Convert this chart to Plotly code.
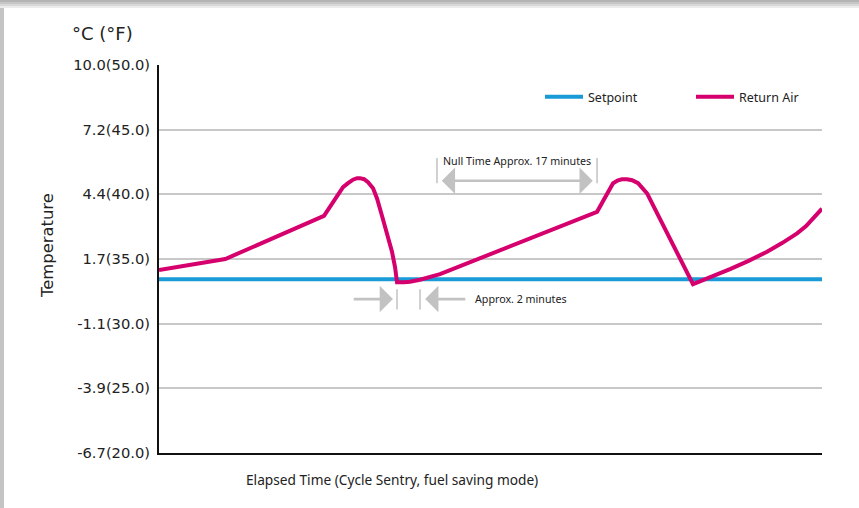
import plotly.graph_objects as go

# ---- data (minutes, degrees F) ----
time_min = [0, 7.0, 17.42, 17.84, 18.37, 18.90, 19.43, 19.96, 20.48, 20.91, 21.22, 21.65, 22.07,
            22.60, 23.02, 23.55, 24.07, 24.60, 24.92, 25.13, 25.87, 26.5, 27.56, 28.61, 29.67,
            46.25, 46.67, 47.09, 47.52, 47.94, 48.46, 48.89, 49.42, 49.95, 50.58, 51.11, 51.53,
            56.38, 58.39, 60.29, 62.19, 64.2, 65.78, 67.37, 68.32, 69.06, 70.0]
return_air_f = [34.14, 35.0, 38.33, 38.81, 39.37, 40.0, 40.55, 40.86, 41.13, 41.25, 41.25, 41.17, 40.94,
                40.47, 39.68, 38.33, 36.98, 35.56, 34.38, 33.2, 33.2, 33.24, 33.40, 33.59, 33.83,
                38.65, 39.21, 39.76, 40.39, 40.86, 41.09, 41.17, 41.17, 41.09, 40.86, 40.47, 40.08,
                33.05, 33.63, 34.22, 34.84, 35.56, 36.23, 36.98, 37.54, 38.17, 38.89]
setpoint_time = [0, 70]
setpoint_f = [33.44, 33.44]

tick_vals = [20, 25, 30, 35, 40, 45, 50]
tick_text = ["-6.7(20.0)", "-3.9(25.0)", "-1.1(30.0)", "1.7(35.0)", "4.4(40.0)", "7.2(45.0)", "10.0(50.0)"]

FONT = "Noto Sans"
FONT2 = "DejaVu Sans"
GRAY = "#c2c2c2"
TXT = "#222222"

fig = go.Figure()
fig.add_trace(go.Scatter(x=setpoint_time, y=setpoint_f, mode="lines", name="Setpoint",
                         line=dict(color="#1a9ad6", width=4)))
fig.add_trace(go.Scatter(x=time_min, y=return_air_f, mode="lines", name="Return Air",
                         line=dict(color="#d5006d", width=4)))

W, H = 859, 508
L, R, T, B = 159, 37, 65, 55
pw, ph = W - L - R, H - T - B


def px(xp):
    return (xp - L) / pw


def py(yp):
    return (H - B - yp) / ph


shapes = []
# frame decoration (gray edges)
shapes.append(dict(type="rect", xref="paper", yref="paper", x0=px(0), x1=px(4), y0=py(508), y1=py(0),
                   fillcolor="#c4c4c4", line=dict(width=0), layer="below"))
for (a, b, c) in [(0, 2, "#b4b4b4"), (2, 4, "#c6c6c6"), (4, 6, "#d8d8d8"), (6, 8, "#ececec")]:
    shapes.append(dict(type="rect", xref="paper", yref="paper", x0=px(0), x1=px(859), y0=py(b), y1=py(a),
                       fillcolor=c, line=dict(width=0), layer="below"))

# vertical marker lines for annotations
for xv, y0, y1 in [(29.35, 40.86, 42.8), (46.25, 40.86, 42.8), (25.13, 31.1, 32.66), (27.56, 31.1, 32.66)]:
    shapes.append(dict(type="line", xref="x", yref="y", x0=xv, x1=xv, y0=y0, y1=y1,
                       line=dict(color=GRAY, width=1.5)))

annotations = [
    dict(text="°C (°F)", xref="paper", yref="paper", x=px(102.5), y=py(33), showarrow=False,
         font=dict(family=FONT2, size=18, color=TXT), xanchor="center", yanchor="middle"),
    dict(text="Temperature", xref="paper", yref="paper", x=px(47), y=py(246), showarrow=False,
         textangle=-90, font=dict(family=FONT2, size=16.4, color=TXT), xanchor="center", yanchor="middle"),
    dict(text="Elapsed Time (Cycle Sentry, fuel saving mode)", xref="paper", yref="paper",
         x=px(392), y=py(479), showarrow=False,
         font=dict(family=FONT, size=13.7, color=TXT), xanchor="center", yanchor="middle"),
    dict(text="Null Time Approx. 17 minutes", xref="x", yref="y", x=37.8, y=42.55, showarrow=False,
         font=dict(family=FONT, size=10.7, color=TXT), xanchor="center", yanchor="middle"),
    dict(text="", xref="x", yref="y", axref="x", ayref="y", x=45.8, y=41.05, ax=29.7, ay=41.05,
         showarrow=True, arrowhead=1, startarrowhead=1, arrowside="end+start", arrowsize=1.7,
         startarrowsize=1.7, arrowwidth=2.6, arrowcolor=GRAY, standoff=0, startstandoff=0),
    dict(text="", xref="x", yref="y", axref="x", ayref="y", x=24.7, y=31.9, ax=20.4, ay=31.9,
         showarrow=True, arrowhead=1, arrowsize=1.7, arrowwidth=2.6, arrowcolor=GRAY, standoff=0),
    dict(text="", xref="x", yref="y", axref="x", ayref="y", x=28.1, y=31.9, ax=32.5, ay=31.9,
         showarrow=True, arrowhead=1, arrowsize=1.7, arrowwidth=2.6, arrowcolor=GRAY, standoff=0),
    dict(text="Approx. 2 minutes", xref="x", yref="y", x=33.15, y=31.9, showarrow=False,
         font=dict(family=FONT, size=10.7, color=TXT), xanchor="left", yanchor="middle"),
]

fig.update_layout(
    width=W, height=H,
    margin=dict(l=L, r=R, t=T, b=B, pad=0),
    paper_bgcolor="white", plot_bgcolor="white",
    font=dict(family=FONT, color=TXT),
    showlegend=True,
    legend=dict(orientation="h", x=px(540), y=py(97), xanchor="left", yanchor="middle",
                font=dict(family=FONT, size=12.5, color=TXT), bgcolor="rgba(0,0,0,0)",
                itemwidth=38, entrywidth=98, entrywidthmode="pixels"),
    xaxis=dict(range=[0, 70], showgrid=False, zeroline=False, showticklabels=False, ticks="",
               showline=True, linecolor="#111", linewidth=2),
    yaxis=dict(range=[20, 50], tickvals=tick_vals, ticktext=tick_text, showgrid=True,
               gridcolor="#c8c8c8", gridwidth=1.5, zeroline=False, ticks="",
               showline=True, linecolor="#111", linewidth=2, ticklabelstandoff=4,
               tickfont=dict(family=FONT2, size=14.7, color=TXT)),
    shapes=shapes, annotations=annotations,
)

fig.write_html("out.html", config={"displayModeBar": False},
               post_script="document.body.style.margin='0';")
